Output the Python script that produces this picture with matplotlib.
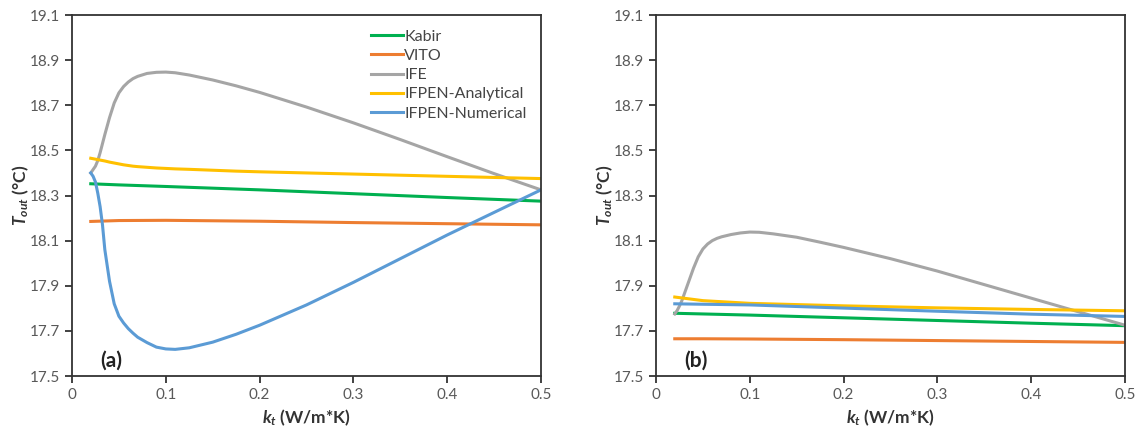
import matplotlib
matplotlib.use('Agg')
import matplotlib.pyplot as plt
import numpy as np

plt.rcParams['font.family'] = ['Lato', 'DejaVu Sans']
plt.rcParams['mathtext.fontset'] = 'custom'
plt.rcParams['mathtext.it'] = 'Lato:italic:bold'
plt.rcParams['mathtext.rm'] = 'Lato:bold'

# thermal conductivity of the tube (W/m*K)
kt = [0.02, 0.0225, 0.025, 0.0275, 0.03, 0.0325, 0.035, 0.04, 0.045, 0.05,
      0.055, 0.06, 0.065, 0.07, 0.08, 0.09, 0.1, 0.11, 0.125, 0.15,
      0.175, 0.2, 0.25, 0.3, 0.35, 0.4, 0.45, 0.5]
kt_c = [0.02, 0.05, 0.1, 0.2, 0.3, 0.4, 0.5]

labels = ['Kabir', 'VITO', 'IFE', 'IFPEN-Analytical', 'IFPEN-Numerical']
colors = ['#00B050', '#ED7D31', '#A5A5A5', '#FFC000', '#5B9BD5']

# panel (a)
kabir_a = [18.352, 18.347, 18.340, 18.325, 18.308, 18.291, 18.275]
vito_a = [18.185, 18.189, 18.190, 18.186, 18.180, 18.175, 18.170]
ife_a = [18.40, 18.415, 18.43, 18.455, 18.49, 18.53, 18.57, 18.645, 18.71, 18.755,
         18.783, 18.803, 18.818, 18.828, 18.841, 18.846, 18.847, 18.844, 18.834, 18.812,
         18.786, 18.757, 18.692, 18.622, 18.548, 18.472, 18.397, 18.325]
ana_a = [18.465, 18.463, 18.461, 18.459, 18.457, 18.455, 18.453, 18.448, 18.444, 18.44,
         18.436, 18.433, 18.43, 18.428, 18.425, 18.422, 18.42, 18.418, 18.416, 18.412,
         18.408, 18.405, 18.40, 18.395, 18.39, 18.385, 18.38, 18.375]
num_a = [18.40, 18.385, 18.36, 18.31, 18.25, 18.17, 18.06, 17.92, 17.82, 17.765,
         17.735, 17.71, 17.69, 17.672, 17.648, 17.628, 17.62, 17.618, 17.625, 17.65,
         17.685, 17.725, 17.815, 17.915, 18.02, 18.125, 18.225, 18.325]

# panel (b)
kabir_b = [17.778, 17.775, 17.770, 17.758, 17.746, 17.734, 17.723]
vito_b = [17.665, 17.665, 17.664, 17.661, 17.657, 17.653, 17.649]
ife_b = [17.775, 17.79, 17.81, 17.833, 17.862, 17.891, 17.92, 17.978, 18.028, 18.063,
         18.085, 18.10, 18.11, 18.117, 18.127, 18.134, 18.138, 18.137, 18.13, 18.115,
         18.093, 18.07, 18.02, 17.965, 17.905, 17.845, 17.785, 17.725]
ana_b = [17.850, 17.834, 17.822, 17.811, 17.802, 17.795, 17.789]
num_b = [17.820, 17.818, 17.815, 17.801, 17.787, 17.774, 17.764]

panels = [('(a)', [(kt_c, kabir_a), (kt_c, vito_a), (kt, ife_a), (kt, ana_a), (kt, num_a)]),
          ('(b)', [(kt_c, kabir_b), (kt_c, vito_b), (kt, ife_b), (kt_c, ana_b), (kt_c, num_b)])]

fig = plt.figure(figsize=(11.37, 4.33), dpi=100)
lefts = [72/1137, 656/1137]
yt = np.arange(17.5, 19.15, 0.2)
for i, (tag, series) in enumerate(panels):
    ax = fig.add_axes([lefts[i], 57/433, 469/1137, 361/433])
    for (x, vals), lab, col in zip(series, labels, colors):
        ax.plot(x, vals, color=col, lw=2.2, label=lab, solid_joinstyle='round')
    ax.set_xlim(0, 0.5)
    ax.set_ylim(17.5, 19.1)
    ax.set_xticks([0, 0.1, 0.2, 0.3, 0.4, 0.5])
    ax.set_xticklabels(['0', '0.1', '0.2', '0.3', '0.4', '0.5'])
    ax.set_yticks(yt)
    ax.set_yticklabels(['%.1f' % v for v in yt])
    ax.tick_params(direction='out', length=5, width=1.3, labelsize=11,
                   color='#333333', labelcolor='#595959')
    for s in ax.spines.values():
        s.set_linewidth(1.3)
        s.set_color('#333333')
    ax.set_xlabel(r'$k_t$ (W/m*K)', fontsize=12.5, fontweight='bold', color='#333333')
    ax.set_ylabel(r'$T_{out}$ (°C)', fontsize=12.5, fontweight='bold', color='#333333',
                  labelpad=-1)
    ax.text(0.03, 17.57, tag, fontsize=15, fontweight='bold', va='center', color='#222222')
    if i == 0:
        ax.legend(loc='upper right', frameon=False, fontsize=11.5, handlelength=2.0,
                  handletextpad=0.1, labelspacing=0.32, borderaxespad=0.5,
                  labelcolor='#444444')

fig.savefig('out.png', dpi=100)
